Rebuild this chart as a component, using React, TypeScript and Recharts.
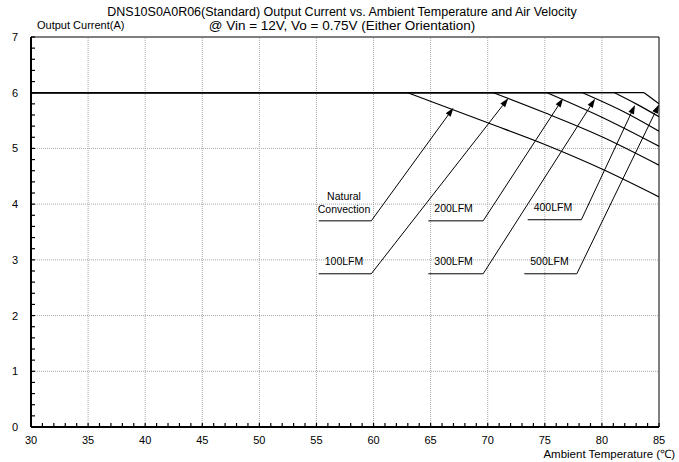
import { LineChart, Line, XAxis, YAxis, ReferenceLine } from "recharts"

// DNS10S0A0R06 derating chart: output current vs ambient temperature

const FONT = "'Liberation Sans', Arial, Helvetica, sans-serif"

const xMajorTicks = [30, 35, 40, 45, 50, 55, 60, 65, 70, 75, 80, 85]
const yMajorTicks = [0, 1, 2, 3, 4, 5, 6, 7]
const xGrid = [35, 40, 45, 50, 55, 60, 65, 70, 75, 80]
const yGrid = [1, 2, 3, 4, 5]

// [temperature °C, current A]
const naturalConvection = [[30, 6], [63, 6], [70, 5.46], [75, 5.07], [80, 4.63], [85, 4.13]]
const lfm100 = [[30, 6], [70.5, 6], [75, 5.64], [80, 5.21], [85, 4.7]]
const lfm200 = [[30, 6], [75.2, 6], [80, 5.56], [85, 5.04]]
const lfm300 = [[30, 6], [78.3, 6], [82, 5.65], [85, 5.31]]
const lfm400 = [[30, 6], [81.1, 6], [83, 5.8], [85, 5.57]]
const lfm500 = [[30, 6], [83.7, 6], [85, 5.8]]

const curves = [naturalConvection, lfm100, lfm200, lfm300, lfm400, lfm500]

// callouts: label, underline (from..to at y), arrow tip
const callouts = [
  { text: ["Natural", "Convection"], from: 55.2, to: 59.8, y: 3.7, tipX: 67.0, tipY: 5.73 },
  { text: ["100LFM"], from: 55.2, to: 59.8, y: 2.75, tipX: 71.8, tipY: 5.9 },
  { text: ["200LFM"], from: 64.8, to: 69.6, y: 3.7, tipX: 76.6, tipY: 5.9 },
  { text: ["300LFM"], from: 64.8, to: 69.6, y: 2.75, tipX: 79.4, tipY: 5.89 },
  { text: ["400LFM"], from: 73.5, to: 78.2, y: 3.72, tipX: 82.9, tipY: 5.78 },
  { text: ["500LFM"], from: 73.2, to: 77.8, y: 2.75, tipX: 85, tipY: 5.79 },
]

const range = (n: number, f: (k: number) => number) => Array.from({ length: n }, (_, k) => f(k))
const xTicks = range(56, (k) => 30 + k)
const yTicks = range(36, (k) => (k * 2) / 10)

const toRows = (pts: number[][]) => pts.map(([t, i]) => ({ t, i }))

function XTick(props: any) {
  const { x, y, payload } = props
  const major = xMajorTicks.includes(payload.value)
  return (
    <g>
      <line x1={x} y1={y} x2={x} y2={y - 4} stroke="#000" strokeWidth={1.2} />
      {major && (
        <text x={x} y={y + 17} textAnchor="middle" fontSize={11} fontFamily={FONT} fill="#000">
          {payload.value}
        </text>
      )}
    </g>
  )
}

function YTick(props: any) {
  const { x, y, payload } = props
  const major = yMajorTicks.includes(payload.value)
  return (
    <g>
      <line x1={x} y1={y} x2={x + 4} y2={y} stroke="#000" strokeWidth={1.2} />
      {major && (
        <text x={x - 13} y={y + 4} textAnchor="end" fontSize={11} fontFamily={FONT} fill="#000">
          {payload.value}
        </text>
      )}
    </g>
  )
}

function underlineShape(text: string[]) {
  return (props: any) => {
    const { x1, y1, x2 } = props
    const mid = (x1 + x2) / 2
    return (
      <g>
        <line x1={x1} y1={y1} x2={x2} y2={y1} stroke="#000" strokeWidth={1} />
        {text.length > 1 ? (
          text.map((s, k) => (
            <text key={s} x={mid - 1} y={y1 - 21 + k * 13} textAnchor="middle" fontSize={10.5} fontFamily={FONT} fill="#000">
              {s}
            </text>
          ))
        ) : (
          <text x={x1 + 6} y={y1 - 9} fontSize={10.5} fontFamily={FONT} fill="#000">
            {text[0]}
          </text>
        )}
      </g>
    )
  }
}

function ArrowShape(props: any) {
  const { x1, y1, x2, y2 } = props
  const a = Math.atan2(y2 - y1, x2 - x1)
  const len = 9
  const half = 3
  const bx = x2 - len * Math.cos(a)
  const by = y2 - len * Math.sin(a)
  const p1 = `${bx + half * Math.sin(a)},${by - half * Math.cos(a)}`
  const p2 = `${bx - half * Math.sin(a)},${by + half * Math.cos(a)}`
  return (
    <g>
      <line x1={x1} y1={y1} x2={bx} y2={by} stroke="#000" strokeWidth={1} />
      <polygon points={`${x2},${y2} ${p1} ${p2}`} fill="#000" />
    </g>
  )
}

export default function App() {
  return (
    <div style={{ position: "absolute", left: 0, top: 0, width: 679, height: 462, background: "#fff", fontFamily: FONT }}>
      <div style={{ position: "absolute", left: 342, top: 5, transform: "translateX(-50%)", whiteSpace: "nowrap", fontSize: 12.5, lineHeight: "14px" }}>
        DNS10S0A0R06(Standard) Output Current vs. Ambient Temperature and Air Velocity
      </div>
      <div style={{ position: "absolute", left: 342, top: 18, transform: "translateX(-50%)", whiteSpace: "nowrap", fontSize: 13.5, lineHeight: "16px" }}>
        @ Vin = 12V, Vo = 0.75V (Either Orientation)
      </div>
      <div style={{ position: "absolute", left: 37, top: 19, whiteSpace: "nowrap", fontSize: 11, lineHeight: "13px" }}>
        Output Current(A)
      </div>
      <div style={{ position: "absolute", right: 4, top: 447, whiteSpace: "nowrap", fontSize: 11.5, lineHeight: "14px" }}>
        Ambient Temperature (℃)
      </div>

      <LineChart width={679} height={462} margin={{ top: 37, right: 20, bottom: 0, left: 0 }}>
        {xGrid.map((v) => (
          <ReferenceLine key={`gx${v}`} x={v} stroke="#a8a8a8" strokeDasharray="1 1" />
        ))}
        {yGrid.map((v) => (
          <ReferenceLine key={`gy${v}`} y={v} stroke="#a8a8a8" strokeDasharray="1 1" />
        ))}
        <ReferenceLine y={7} stroke="#000" strokeWidth={1} />
        <ReferenceLine x={85} stroke="#000" strokeWidth={1} />

        <XAxis
          dataKey="t"
          type="number"
          domain={[30, 85]}
          ticks={xTicks}
          interval={0}
          tickSize={0}
          tickMargin={0}
          tickLine={false}
          tick={<XTick />}
          axisLine={{ stroke: "#000", strokeWidth: 2 }}
          height={35}
          allowDataOverflow
        />
        <YAxis
          type="number"
          domain={[0, 7]}
          ticks={yTicks}
          interval={0}
          tickSize={0}
          tickMargin={0}
          tickLine={false}
          tick={<YTick />}
          axisLine={{ stroke: "#000", strokeWidth: 2 }}
          width={31}
          allowDataOverflow
        />

        {/* flat 6 A section of every curve */}
        {curves.map((c, k) => (
          <Line
            key={`f${k}`}
            data={toRows(c.slice(0, 2))}
            dataKey="i"
            type="linear"
            stroke="#000"
            strokeWidth={1.2}
            dot={false}
            activeDot={false}
            isAnimationActive={false}
          />
        ))}
        {/* derating section */}
        {curves.map((c, k) => (
          <Line
            key={`c${k}`}
            data={toRows(c.slice(1))}
            dataKey="i"
            type="monotone"
            stroke="#000"
            strokeWidth={1.2}
            dot={false}
            activeDot={false}
            isAnimationActive={false}
          />
        ))}

        {callouts.map((c, k) => (
          <ReferenceLine
            key={`u${k}`}
            segment={[{ x: c.from, y: c.y }, { x: c.to, y: c.y }]}
            ifOverflow="visible"
            shape={underlineShape(c.text)}
          />
        ))}
        {callouts.map((c, k) => (
          <ReferenceLine
            key={`a${k}`}
            segment={[{ x: c.to, y: c.y }, { x: c.tipX, y: c.tipY }]}
            ifOverflow="visible"
            shape={ArrowShape}
          />
        ))}
      </LineChart>
    </div>
  )
}
